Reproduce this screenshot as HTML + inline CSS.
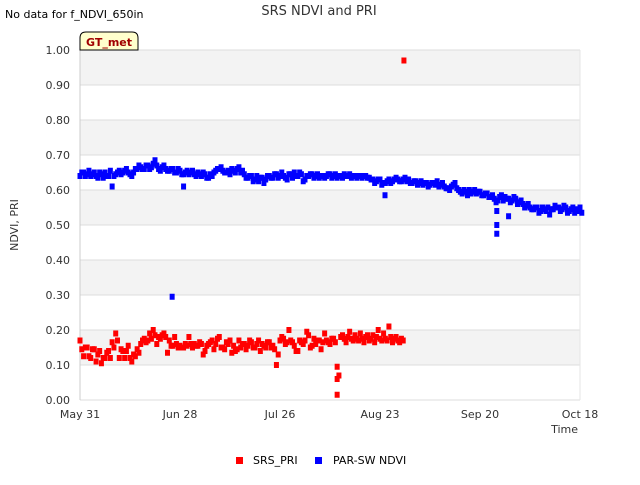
<!DOCTYPE html>
<html><head><meta charset="utf-8"><style>
body{margin:0;background:#fff;font-family:"Liberation Sans","DejaVu Sans",sans-serif}
</style></head><body>
<svg id="c" width="640" height="480" xmlns="http://www.w3.org/2000/svg" font-family="DejaVu Sans, Liberation Sans, sans-serif">
<text x="5" y="18" font-size="11" fill="#000">No data for f_NDVI_650in</text>
<text x="319" y="15" font-size="13" fill="#333" text-anchor="middle">SRS NDVI and PRI</text>
<g id="plot"></g>
<g>
<path d="M80,50 L80,38 Q80,32 86,32 L132,32 Q138,32 138,38 L138,50 Z" fill="#ffffcc" stroke="#000" stroke-width="1"/>
<text x="109" y="46" font-size="11" font-weight="bold" fill="#a00000" text-anchor="middle">GT_met</text>
</g>
<text x="18" y="225" font-size="11" fill="#333" text-anchor="middle" transform="rotate(-90 18 225)">NDVI, PRI</text>
<text x="578" y="433" font-size="11" fill="#333" text-anchor="end">Time</text>
<g>
<rect x="236" y="457" width="7" height="7" fill="#ff0000"/>
<text x="253" y="464" font-size="11" fill="#000">SRS_PRI</text>
<rect x="315" y="457" width="7" height="7" fill="#0000ff"/>
<text x="333" y="464" font-size="11" fill="#000">PAR-SW NDVI</text>
</g>
</svg>
<script>
const yTicks=[0,0.1,0.2,0.3,0.4,0.5,0.6,0.7,0.8,0.9,1.0];
const xTickDays=[0,28,56,84,112,140];
const xTickLabels=["May 31","Jun 28","Jul 26","Aug 23","Sep 20","Oct 18"];
// NDVI, one value per day (day 0..140), plus a second reading per day
const ndviA=[0.64,0.65,0.645,0.64,0.65,0.635,0.645,0.65,0.64,0.61,0.645,0.655,0.65,0.66,0.645,0.65,0.66,0.665,0.66,0.67,0.665,0.685,0.66,0.665,0.66,0.655,0.66,0.65,0.655,0.645,0.655,0.65,0.645,0.65,0.64,0.645,0.635,0.64,0.655,0.66,0.655,0.65,0.645,0.655,0.66,0.65,0.645,0.635,0.64,0.63,0.625,0.635,0.63,0.64,0.635,0.645,0.64,0.64,0.63,0.645,0.65,0.64,0.645,0.63,0.64,0.645,0.64,0.635,0.64,0.64,0.645,0.64,0.635,0.64,0.645,0.64,0.635,0.64,0.64,0.635,0.64,0.635,0.63,0.625,0.63,0.62,0.625,0.62,0.63,0.63,0.625,0.635,0.63,0.62,0.625,0.62,0.615,0.62,0.615,0.62,0.625,0.615,0.61,0.605,0.61,0.62,0.6,0.59,0.595,0.6,0.595,0.59,0.595,0.585,0.59,0.58,0.575,0.57,0.585,0.58,0.575,0.57,0.575,0.565,0.56,0.555,0.55,0.545,0.55,0.54,0.545,0.55,0.545,0.555,0.55,0.545,0.55,0.54,0.55,0.545,0.55];
const ndviB=[0.65,0.64,0.655,0.645,0.64,0.65,0.635,0.64,0.655,0.64,0.65,0.645,0.655,0.65,0.64,0.66,0.67,0.66,0.67,0.66,0.675,0.67,0.655,0.67,0.655,0.66,0.65,0.66,0.645,0.65,0.645,0.655,0.64,0.645,0.65,0.635,0.645,0.65,0.66,0.665,0.65,0.655,0.66,0.65,0.665,0.655,0.635,0.64,0.625,0.64,0.635,0.62,0.64,0.635,0.645,0.635,0.65,0.635,0.645,0.635,0.64,0.65,0.625,0.64,0.645,0.635,0.645,0.64,0.635,0.645,0.635,0.645,0.64,0.635,0.64,0.645,0.64,0.635,0.64,0.64,0.635,0.63,0.62,0.63,0.615,0.62,0.63,0.625,0.635,0.625,0.63,0.625,0.62,0.625,0.615,0.625,0.62,0.61,0.62,0.615,0.61,0.62,0.605,0.6,0.615,0.605,0.595,0.6,0.585,0.59,0.6,0.595,0.585,0.59,0.58,0.585,0.565,0.58,0.57,0.575,0.565,0.58,0.56,0.57,0.55,0.56,0.545,0.55,0.535,0.55,0.54,0.53,0.545,0.55,0.54,0.555,0.535,0.545,0.535,0.54,0.535];
const ndviOutDays=[25.8,29,85.4,116.7,116.7,116.7,120];
const ndviOutVals=[0.295,0.61,0.585,0.54,0.50,0.475,0.525];
// PRI, days 0..90, two readings per day
const priA=[0.17,0.125,0.15,0.12,0.145,0.13,0.105,0.12,0.14,0.165,0.19,0.12,0.14,0.14,0.12,0.13,0.145,0.16,0.175,0.17,0.175,0.185,0.18,0.185,0.18,0.17,0.155,0.16,0.155,0.15,0.155,0.16,0.16,0.155,0.16,0.14,0.16,0.17,0.16,0.18,0.15,0.165,0.17,0.155,0.145,0.15,0.16,0.155,0.165,0.15,0.17,0.16,0.15,0.165,0.155,0.1,0.17,0.175,0.165,0.17,0.155,0.14,0.165,0.17,0.185,0.155,0.16,0.17,0.165,0.17,0.16,0.175,0.095,0.18,0.175,0.18,0.175,0.185,0.17,0.175,0.18,0.17,0.185,0.18,0.175,0.19,0.17,0.18,0.175,0.17,0.175];
const priB=[0.145,0.15,0.125,0.145,0.11,0.14,0.12,0.135,0.12,0.15,0.17,0.145,0.12,0.155,0.11,0.125,0.135,0.17,0.165,0.19,0.2,0.16,0.175,0.19,0.135,0.155,0.18,0.15,0.15,0.16,0.18,0.15,0.155,0.165,0.13,0.155,0.165,0.145,0.175,0.15,0.145,0.16,0.135,0.14,0.17,0.16,0.145,0.17,0.15,0.16,0.14,0.155,0.165,0.15,0.145,0.13,0.18,0.16,0.2,0.165,0.14,0.17,0.16,0.195,0.15,0.175,0.17,0.145,0.19,0.165,0.175,0.165,0.07,0.185,0.165,0.195,0.17,0.175,0.19,0.165,0.185,0.175,0.165,0.2,0.17,0.175,0.21,0.165,0.18,0.165,0.17];
const priOutDays=[72,72,90.7];
const priOutVals=[0.06,0.015,0.97];

const X0=80,X1=580,Y0=400,Y1=50;
const xs=d=>X0+d*(X1-X0)/140;
const ys=v=>Y0-v*(Y0-Y1);
const NS="http://www.w3.org/2000/svg";
const plot=document.getElementById('plot');
function mk(t,a){const e=document.createElementNS(NS,t);for(const k in a)e.setAttribute(k,a[k]);plot.appendChild(e);return e;}
for(let i=0;i<10;i++){
  if(i%2===1){const b=mk('rect',{x:X0,y:ys(yTicks[i+1]),width:X1-X0,height:ys(yTicks[i])-ys(yTicks[i+1]),fill:'#f3f3f3'});
  
  }
}
yTicks.forEach(v=>{
  const l=mk('line',{x1:X0,x2:X1,y1:ys(v),y2:ys(v),stroke:'#ddd','stroke-width':1});
  
  
  const t=mk('text',{x:X0-10,y:ys(v)+4,'font-size':11,fill:'#333','text-anchor':'end'});
  t.textContent=v.toFixed(2);
  
  
});
const ax=mk('line',{x1:X0,x2:X0,y1:Y1,y2:Y0,stroke:'#ccc'});


const rx=mk('line',{x1:X1,x2:X1,y1:Y1,y2:Y0,stroke:'#e6e6e6'});


xTickDays.forEach((d,i)=>{
  const t=mk('text',{x:xs(d),y:Y0+18,'font-size':11,fill:'#333','text-anchor':'middle'});
  t.textContent=xTickLabels[i];
  
  
});
function pt(d,v,c,name){
  const r=mk('rect',{x:xs(d)-2.5,y:ys(v)-3,width:5,height:6,fill:c});
  
  
}
ndviA.forEach((v,i)=>pt(i,v,'#0000ff','ndvi-point'));
ndviB.forEach((v,i)=>pt(i+0.5,v,'#0000ff','ndvi-point'));
ndviOutDays.forEach((d,i)=>pt(d,ndviOutVals[i],'#0000ff','ndvi-point'));
priA.forEach((v,i)=>pt(i,v,'#ff0000','pri-point'));
priB.forEach((v,i)=>pt(i+0.5,v,'#ff0000','pri-point'));
priOutDays.forEach((d,i)=>pt(d,priOutVals[i],'#ff0000','pri-point'));
</script>
</body></html>
